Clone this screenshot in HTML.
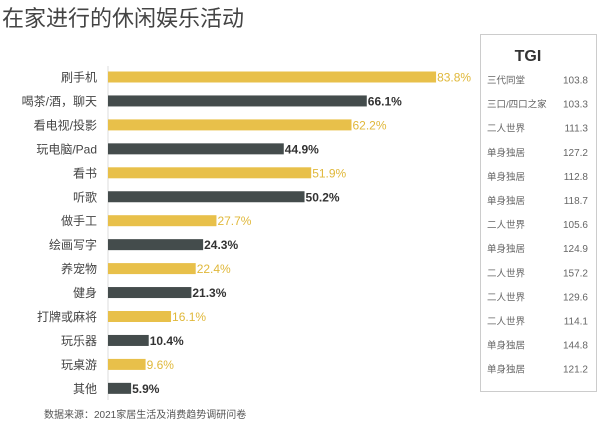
<!DOCTYPE html>
<html><head><meta charset="utf-8"><style>
body{margin:0;background:#fff;width:600px;height:425px;overflow:hidden;font-family:"Liberation Sans","Noto Sans CJK SC",sans-serif;}
</style></head><body>
<svg width="600" height="425" xmlns="http://www.w3.org/2000/svg" font-family="Liberation Sans, Noto Sans CJK SC, sans-serif">
<text x="2" y="26" font-size="22" fill="#444">在家进行的休闲娱乐活动</text>
<line x1="108" y1="66" x2="108" y2="400" stroke="#ddd" stroke-width="1"/>
<g id="bars"></g>
<rect x="480.5" y="34.5" width="116" height="357" fill="#fff" stroke="#ccc"/>
<text x="528" y="61" font-size="16" font-weight="bold" fill="#333" text-anchor="middle" transform="scale(1,1)">TGI</text>
<g id="tgi"></g>
<text x="44" y="418" font-size="10" fill="#555">数据来源：2021家居生活及消费趋势调研问卷</text>
</svg>
<script>
const categories=["刷手机","喝茶/酒，聊天","看电视/投影","玩电脑/Pad","看书","听歌","做手工","绘画写字","养宠物","健身","打牌或麻将","玩乐器","玩桌游","其他"];
const values=[83.8,66.1,62.2,44.9,51.9,50.2,27.7,24.3,22.4,21.3,16.1,10.4,9.6,5.9];
const tgiGroups=["三代同堂","三口/四口之家","二人世界","单身独居","单身独居","单身独居","二人世界","单身独居","二人世界","二人世界","二人世界","单身独居","单身独居"];
const tgiValues=[103.8,103.3,111.3,127.2,112.8,118.7,105.6,124.9,157.2,129.6,114.1,144.8,121.2];
const NS="http://www.w3.org/2000/svg";
const x0=108,pxPer=3.915,y0=77,step=23.95,bh=11;
const xs=v=>x0+v*pxPer, ys=i=>y0+i*step;
const g=document.getElementById('bars');
categories.forEach((c,i)=>{
  const col=i%2===0?'#e8c04a':'#444c4c';
  const t=document.createElementNS(NS,'text');
  
  
  t.setAttribute('x',97);t.setAttribute('y',ys(i)+4.5);t.setAttribute('text-anchor','end');
  t.setAttribute('font-size','12');t.setAttribute('fill','#444');t.textContent=c;g.appendChild(t);
  const r=document.createElementNS(NS,'rect');
  
  
  r.setAttribute('x',x0);r.setAttribute('y',ys(i)-bh/2);r.setAttribute('width',xs(values[i])-x0);r.setAttribute('height',bh);r.setAttribute('fill',col);g.appendChild(r);
  const v=document.createElementNS(NS,'text');
  
  
  v.setAttribute('x',xs(values[i])+1);v.setAttribute('y',ys(i)+4.5);v.setAttribute('font-size','12');
  v.setAttribute('font-weight',i%2===0?'normal':'bold');v.setAttribute('fill',i%2===0?'#e0b83a':'#333');
  v.textContent=values[i].toFixed(1)+'%';g.appendChild(v);
});
const tg=document.getElementById('tgi');
tgiGroups.forEach((n,i)=>{
  const y=80+i*24.1;
  const a=document.createElementNS(NS,'text');
  
  
  a.setAttribute('x',487);a.setAttribute('y',y+3.5);a.setAttribute('font-size','9.5');a.setAttribute('fill','#666');a.textContent=n;tg.appendChild(a);
  const b=document.createElementNS(NS,'text');
  
  
  b.setAttribute('x',588);b.setAttribute('y',y+3.5);b.setAttribute('font-size','10');b.setAttribute('fill','#666');b.setAttribute('text-anchor','end');b.textContent=tgiValues[i].toFixed(1);tg.appendChild(b);
});
</script>
</body></html>
